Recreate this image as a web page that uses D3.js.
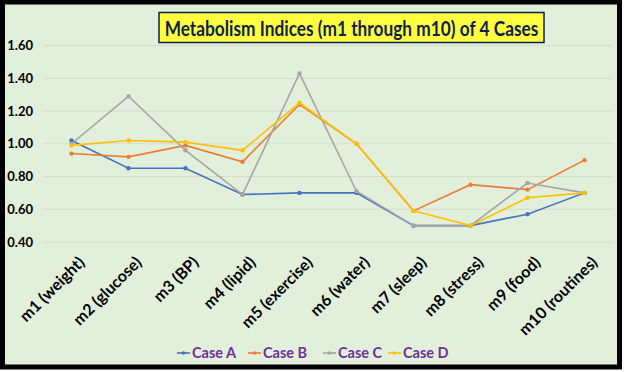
<!DOCTYPE html>
<html>
<head>
<meta charset="utf-8">
<script src="https://cdn.jsdelivr.net/npm/d3@7"></script>
<style>
  html, body { margin: 0; padding: 0; background: #ffffff; }
  svg text { font-family: Lato, "Open Sans", sans-serif; font-weight: bold; }
</style>
</head>
<body>
<svg id="chart" width="624" height="372"></svg>
<script>
// metabolism indices
var categories = ["m1 (weight)", "m2 (glucose)", "m3 (BP)", "m4 (lipid)", "m5 (exercise)",
    "m6 (water)", "m7 (sleep)", "m8 (stress)", "m9 (food)", "m10 (routines)"];
var seriesNames = ["Case A", "Case B", "Case C", "Case D"];
var caseA = [1.02, 0.85, 0.85, 0.69, 0.70, 0.70, 0.50, 0.50, 0.57, 0.70];
var caseB = [0.94, 0.92, 0.99, 0.89, 1.24, 1.00, 0.59, 0.75, 0.72, 0.90];
var caseC = [1.00, 1.29, 0.96, 0.69, 1.43, 0.71, 0.50, 0.50, 0.76, 0.70];
var caseD = [0.99, 1.02, 1.01, 0.96, 1.25, 1.00, 0.59, 0.50, 0.67, 0.70];
var yTicks = [0.40, 0.60, 0.80, 1.00, 1.20, 1.40, 1.60];
var colors = ["#4472C4", "#ED7D31", "#A5A5A5", "#FFC000"];

var seriesValues = [caseA, caseB, caseC, caseD];

var svg = d3.select("#chart");

// frame + background
svg.append("rect")
    .attr("x", 2.5).attr("y", 2)
    .attr("width", 617).attr("height", 365)
    .attr("fill", "#E2EFDA")
    .attr("stroke", "#000").attr("stroke-width", 5);

var x = d3.scalePoint()
    .domain(categories)
    .range([43, 613])
    .padding(0.5);

var y = d3.scaleLinear()
    .domain([0.4, 1.6])
    .range([242, 45.5]);

// gridlines
svg.append("g")
    .selectAll("line")
    .data(yTicks)
    .enter()
    .append("line")
    .attr("x1", 43).attr("x2", 613)
    .attr("y1", function (d) { return y(d); })
    .attr("y2", function (d) { return y(d); })
    .attr("stroke", "#D3DECD")
    .attr("stroke-width", 1);

// y axis labels
var yAxis = d3.axisLeft(y)
    .tickValues(yTicks)
    .tickFormat(d3.format(".2f"))
    .tickSize(0)
    .tickPadding(0);

var gy = svg.append("g")
    .attr("transform", "translate(33,0)")
    .call(yAxis);
gy.select(".domain").remove();
gy.selectAll("text")
    .attr("fill", "#000")
    .style("font-size", "13px");

// x axis labels, rotated
var xAxis = d3.axisBottom(x).tickSize(0).tickPadding(0);
var gx = svg.append("g")
    .attr("transform", "translate(0,255)")
    .call(xAxis);
gx.select(".domain").remove();
gx.selectAll("text")
    .attr("fill", "#000")
    .style("font-size", "16px")
    .attr("text-anchor", "end")
    .attr("dy", "0.75em")
    .attr("transform", "translate(5,0) rotate(-45)");

// lines
var line = d3.line()
    .x(function (d, i) { return x(categories[i]); })
    .y(function (d) { return y(d); });

seriesValues.forEach(function (vals, s) {
    svg.append("path")
        .datum(vals)
        .attr("d", line)
        .attr("fill", "none")
        .attr("stroke", colors[s])
        .attr("stroke-width", 1.6);
    svg.append("g")
        .selectAll("circle")
        .data(vals)
        .enter()
        .append("circle")
        .attr("cx", function (d, i) { return x(categories[i]); })
        .attr("cy", function (d) { return y(d); })
        .attr("r", 2.2)
        .attr("fill", colors[s]);
});

// title box
var title = svg.append("g");
title.append("rect")
    .attr("x", 159).attr("y", 12.5)
    .attr("width", 385).attr("height", 30)
    .attr("fill", "#FFFF40")
    .attr("stroke", "#0F1F4F").attr("stroke-width", 1.5);
var titleText = title.append("text")
    .attr("x", 0).attr("y", 0)
    .attr("dy", "0.36em")
    .attr("text-anchor", "middle")
    .attr("fill", "#0F1F4F")
    .style("font-size", "21px")
    .text("Metabolism Indices (m1 through m10) of 4 Cases");
// squeeze horizontally so the wider fallback font fits the box like the original
var natural = titleText.node().getComputedTextLength();
var sx = Math.min(1, 374 / natural);
titleText.attr("transform", "translate(351.5,28) scale(" + sx + ",1)");

// legend
var legendX = [177, 248, 323, 388];
var legend = svg.append("g")
    .selectAll("g")
    .data(seriesNames)
    .enter()
    .append("g")
    .attr("transform", function (d, i) { return "translate(" + legendX[i] + ",353)"; });
legend.append("line")
    .attr("x1", 0).attr("x2", 13)
    .attr("stroke", function (d, i) { return colors[i]; })
    .attr("stroke-width", 1.6);
legend.append("circle")
    .attr("cx", 6.5).attr("r", 1.8)
    .attr("fill", function (d, i) { return colors[i]; });
legend.append("text")
    .attr("x", 15)
    .attr("dy", "0.35em")
    .attr("fill", "#7030A0")
    .style("font-size", "14.5px")
    .text(function (d) { return d; });
</script>
</body>
</html>
